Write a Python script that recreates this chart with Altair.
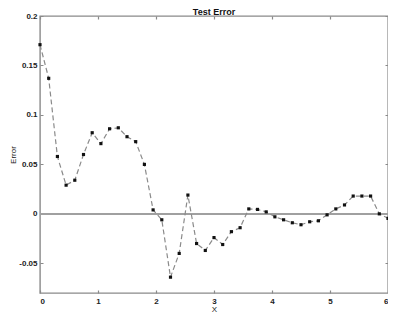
import altair as alt
import pandas as pd

x_vals = [0.0, 0.15, 0.3, 0.45, 0.6, 0.75, 0.9, 1.05, 1.2, 1.35, 1.5, 1.65, 1.8, 1.95,
          2.1, 2.25, 2.4, 2.55, 2.7, 2.85, 3.0, 3.15, 3.3, 3.45, 3.6, 3.75, 3.9, 4.05,
          4.2, 4.35, 4.5, 4.65, 4.8, 4.95, 5.1, 5.25, 5.4, 5.55, 5.7, 5.85, 6.0]
err_vals = [0.171, 0.137, 0.058, 0.029, 0.034, 0.060, 0.082, 0.071, 0.086, 0.087, 0.078,
            0.073, 0.050, 0.004, -0.006, -0.064, -0.040, 0.019, -0.030, -0.037, -0.024,
            -0.031, -0.018, -0.014, 0.005, 0.0045, 0.002, -0.003, -0.006, -0.009, -0.011,
            -0.008, -0.007, -0.001, 0.005, 0.009, 0.018, 0.018, 0.018, 0.0, -0.0045]
x_ticks = [0, 1, 2, 3, 4, 5, 6]
y_ticks = [-0.05, 0, 0.05, 0.1, 0.15, 0.2]

df = pd.DataFrame({"x": x_vals, "err": err_vals})

W, H = 348, 277
FONT = "Liberation Sans"

xenc = alt.X("x:Q", scale=alt.Scale(domain=[0, 6], nice=False, zero=False),
             axis=alt.Axis(values=x_ticks, title="X", format="d", gridDash=[3, H - 6],
                           labelPadding=4, titlePadding=0))
yenc = alt.Y("err:Q", scale=alt.Scale(domain=[-0.08, 0.2], nice=False, zero=False),
             axis=alt.Axis(values=y_ticks, title="Error", gridDash=[3, W - 6],
                           labelPadding=3, titleX=-31, titleBaseline="top",
                           labelExpr="replace(format(datum.value, '~g'), '\u2212', '-')"))

base = alt.Chart(df)
zero = base.mark_rule(color="#a0a0a0", strokeWidth=1.5).encode(y=alt.datum(0))
line = base.mark_line(color="#8a8a8a", strokeWidth=1.2, strokeDash=[5, 3]).encode(x=xenc, y=yenc)
pts = base.mark_square(color="#111111", size=10, opacity=1).encode(x="x:Q", y="err:Q")

chart = alt.layer(zero, line, pts).properties(
    width=W, height=H,
    title=alt.TitleParams("Test Error", fontSize=9, font=FONT, fontWeight="bold",
                          color="#111", offset=0, dy=5, anchor="middle"),
    autosize=alt.AutoSizeParams(type="none"),
    padding={"left": 32, "top": 8, "right": 0, "bottom": 19},
).configure_view(stroke="#8a8a8a", strokeWidth=1.4).configure_axis(
    labelFont=FONT, labelFontSize=8, labelColor="#222", labelFontWeight="bold",
    titleFont=FONT, titleFontSize=8, titleColor="#222", titleFontWeight="normal",
    ticks=False, domain=False, grid=True, gridColor="#8a8a8a", gridWidth=1.2,
    gridOpacity=1,
)

chart.save("out.html", embed_options={"renderer": "svg", "actions": False})
